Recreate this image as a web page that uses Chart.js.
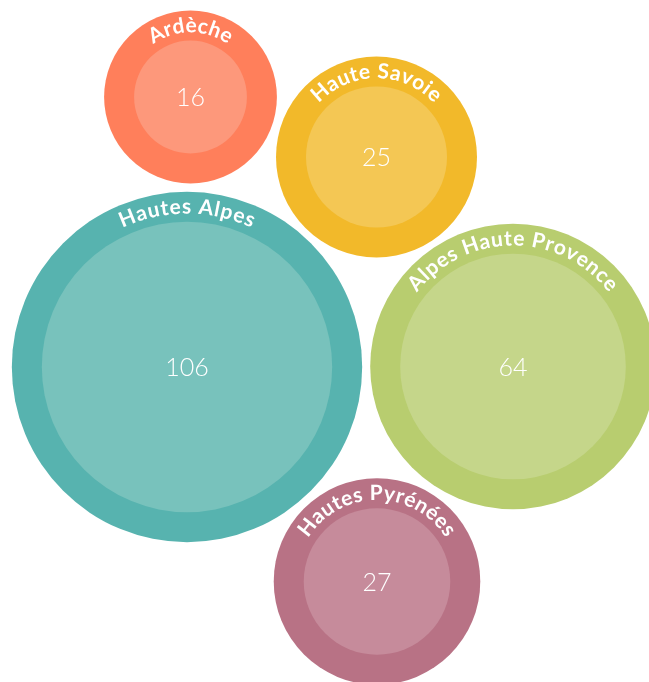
<!DOCTYPE html>
<html>
<head>
<meta charset="utf-8">
<script src="https://cdn.jsdelivr.net/npm/chart.js@4.4.0/dist/chart.umd.min.js"></script>
<style>
  html, body { margin: 0; padding: 0; background: #fff; }
  #wrap { width: 649px; height: 682px; position: relative; }
</style>
</head>
<body>
<div id="wrap"><canvas id="bubbles"></canvas></div>
<script>
// departements and counts
var labels = ['Ardèche', 'Haute Savoie', 'Hautes Alpes', 'Alpes Haute Provence', 'Hautes Pyrénées'];
var counts = [16, 25, 106, 64, 27];
// packed layout position of each bubble
var xPos = [190.5, 376.5, 187, 513, 377];
var yPos = [97, 157, 367, 366.5, 581.5];
var outerColors = ['#FF7F5B', '#F2B92A', '#57B3AF', '#B8CD6F', '#B87285'];
var innerColors = ['#FD987B', '#F4C754', '#78C2BC', '#C5D68A', '#C68B9B'];

var RING = 30;
function innerR(v) { return 14.1 * Math.sqrt(v) }

var innerData = counts.map((v, i) => ({ x: xPos[i], y: yPos[i], r: innerR(v) }));
var outerData = counts.map((v, i) => ({ x: xPos[i], y: yPos[i], r: innerR(v) + RING }));

const labelPlugin = {
  id: 'arcLabels',
  afterDatasetsDraw(chart) {
    const ctx = chart.ctx;
    const outerMeta = chart.getDatasetMeta(0);
    outerMeta.data.forEach((pt, i) => {
      const R = outerData[i].r;
      const cx = pt.x, cy = pt.y;
      // number in the middle
      ctx.save();
      ctx.fillStyle = '#fff';
      ctx.font = '300 25px Lato';
      ctx.textAlign = 'center';
      ctx.textBaseline = 'middle';
      ctx.fillText(String(counts[i]), cx, cy + 1);
      ctx.restore();

      // label bent along the top of the ring
      const text = labels[i];
      const rad = R - 15;
      const spacing = 1.3;
      ctx.save();
      ctx.font = 'bold 21px Lato';
      ctx.fillStyle = '#fff';
      ctx.textAlign = 'center';
      ctx.textBaseline = 'middle';
      const widths = text.split('').map(c => ctx.measureText(c).width + spacing);
      const total = widths.reduce((a, b) => a + b, 0) - spacing;
      let ang = -Math.PI / 2 - total / rad / 2;
      text.split('').forEach((c, k) => {
        const a = ang + (widths[k] - spacing) / 2 / rad;
        ctx.save();
        ctx.translate(cx + rad * Math.cos(a), cy + rad * Math.sin(a));
        ctx.rotate(a + Math.PI / 2);
        ctx.fillText(c, 0, 0);
        ctx.restore();
        ang += widths[k] / rad;
      });
      ctx.restore();
    });
  }
};

const bubbleConfig = {
  type: 'bubble',
  data: {
    labels: labels,
    datasets: [
      {
        label: 'ring',
        data: outerData,
        backgroundColor: outerColors,
        borderWidth: 0,
        hoverRadius: 0,
        order: 2,
      },
      {
        label: 'count',
        data: innerData,
        backgroundColor: innerColors,
        borderWidth: 0,
        hoverRadius: 0,
        order: 1,
      },
    ],
  },
  options: {
    responsive: true,
    maintainAspectRatio: false,
    animation: false,
    clip: false,
    layout: { padding: 0, autoPadding: false },
    scales: {
      x: { type: 'linear', min: 0, max: 649, display: false },
      y: { type: 'linear', min: 0, max: 682, reverse: true, display: false },
    },
    plugins: {
      legend: { display: false },
      tooltip: { enabled: false },
    },
    events: [],
  },
  plugins: [labelPlugin],
}

const bubblesCtx = document.getElementById('bubbles')
window.myBubbles = new Chart(bubblesCtx, bubbleConfig)
</script>
</body>
</html>
